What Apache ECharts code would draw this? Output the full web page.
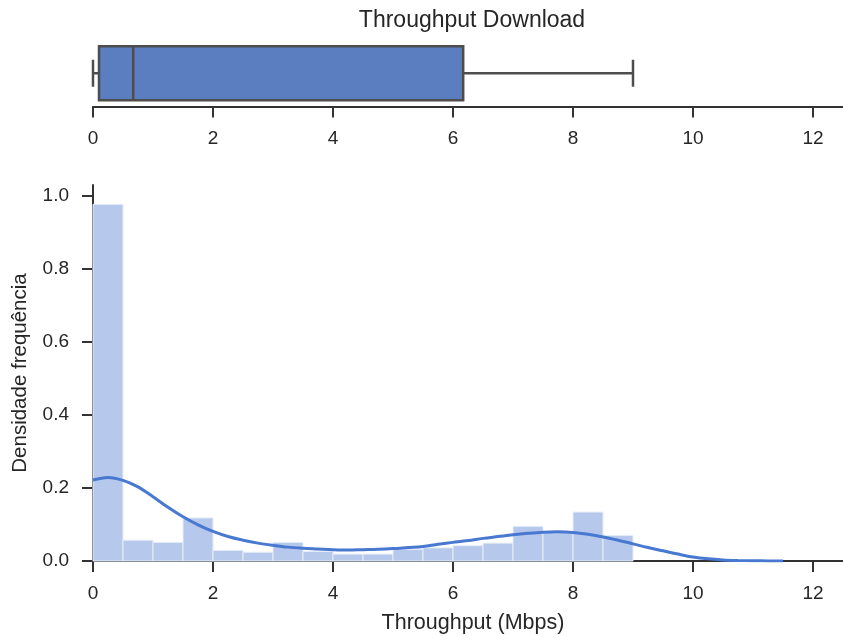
<!DOCTYPE html>
<html>
<head>
<meta charset="utf-8">
<title>Throughput Download</title>
<script src="https://cdn.jsdelivr.net/npm/echarts@6/dist/echarts.min.js"></script>
<style>
  html, body { margin: 0; padding: 0; background: #ffffff; }
  #chart { width: 843px; height: 636px; }
</style>
</head>
<body>
<div id="chart"></div>
<script>
// Summary of the download throughput sample (Mbps): min, Q1, median, Q3, upper whisker
const boxStats = [0.0, 0.1, 0.67, 6.17, 9.0];

// Histogram bin edges (Mbps) and normalised frequency density per bin
const binEdges = [0, 0.5, 1, 1.5, 2, 2.5, 3, 3.5, 4, 4.5, 5, 5.5, 6, 6.5, 7, 7.5, 8, 8.5, 9];
const binDensity = [0.977, 0.057, 0.051, 0.118, 0.029, 0.024, 0.051, 0.026, 0.019,
                    0.019, 0.032, 0.036, 0.042, 0.049, 0.095, 0.080, 0.134, 0.070];

// Kernel density estimate sampled along the throughput axis
const kdeX = [0, 0.25, 0.5, 0.75, 1, 1.25, 1.5, 1.75, 2, 2.25, 2.5, 2.75, 3, 3.25, 3.5, 3.75,
              4, 4.25, 4.5, 4.75, 5, 5.25, 5.5, 5.75, 6, 6.25, 6.5, 6.75, 7, 7.25, 7.5, 7.75,
              8, 8.25, 8.5, 8.75, 9, 9.25, 9.5, 9.75, 10, 10.25, 10.5, 10.75, 11, 11.25, 11.5];
const kdeY = [0.222, 0.229, 0.221, 0.203, 0.176, 0.147, 0.121, 0.099, 0.081, 0.067, 0.057, 0.049,
              0.043, 0.038, 0.035, 0.033, 0.031, 0.030, 0.031, 0.032, 0.034, 0.037, 0.040, 0.046,
              0.051, 0.056, 0.062, 0.067, 0.072, 0.076, 0.079, 0.080, 0.078, 0.073, 0.066, 0.057,
              0.047, 0.037, 0.028, 0.019, 0.011, 0.006, 0.003, 0.0015, 0.0007, 0.0003, 0.0001];

// Tick labels
const xTicks = [0, 2, 4, 6, 8, 10, 12];
const yTicks = [0, 0.2, 0.4, 0.6, 0.8, 1.0];

const FONT = '"Liberation Sans", Arial, Helvetica, sans-serif';
const INK = '#262626';
const AXIS = '#333333';
const BOX_FILL = '#5a7ec0';
const BOX_EDGE = '#4d4d4d';
const HIST_FILL = '#b6c9ec';
const KDE_COLOR = '#4878d0';

const PLOT_LEFT = 93;
const PLOT_WIDTH = 750;
const X_MAX = 12.5;

const histData = binDensity.map((d, i) => [binEdges[i], binEdges[i + 1], d]);
const kdeData = kdeX.map((x, i) => [x, kdeY[i]]);

function xAxisFor(gridIndex, extra) {
  return Object.assign({
    type: 'value',
    gridIndex: gridIndex,
    min: 0,
    max: X_MAX,
    axisLine: { show: true, onZero: false, lineStyle: { color: AXIS, width: 2 } },
    axisTick: { show: true, length: 11, lineStyle: { color: AXIS, width: 2 }, customValues: xTicks },
    axisLabel: { color: INK, fontSize: 19, fontFamily: FONT, margin: 23, customValues: xTicks,
                 formatter: v => String(v) },
    splitLine: { show: false }
  }, extra || {});
}

const chart = echarts.init(document.getElementById('chart'), null, { renderer: 'canvas' });

chart.setOption({
  animation: false,
  backgroundColor: '#ffffff',
  graphic: [{
    type: 'text',
    x: 472,
    y: 21,
    style: {
      text: 'Throughput Download',
      fontSize: 23,
      fontFamily: FONT,
      fill: INK,
      textAlign: 'center',
      textVerticalAlign: 'middle'
    }
  }],
  grid: [
    { left: PLOT_LEFT, width: PLOT_WIDTH, top: 40, height: 66.5, outerBoundsMode: 'none' },
    { left: PLOT_LEFT, width: PLOT_WIDTH, top: 185, height: 376, outerBoundsMode: 'none' }
  ],
  xAxis: [
    xAxisFor(0),
    xAxisFor(1, {
      name: 'Throughput (Mbps)',
      nameLocation: 'middle',
      nameGap: 51,
      nameTextStyle: { color: INK, fontSize: 21.5, fontFamily: FONT, padding: [0, 0, 0, 10] }
    })
  ],
  yAxis: [
    { type: 'value', gridIndex: 0, min: 0, max: 1, show: false },
    {
      type: 'value',
      gridIndex: 1,
      min: 0,
      max: 1.03,
      name: 'Densidade frequência',
      nameLocation: 'middle',
      nameGap: 62,
      nameTextStyle: { color: INK, fontSize: 20.5, fontFamily: FONT },
      axisLine: { show: true, onZero: false, lineStyle: { color: AXIS, width: 2 } },
      axisTick: { show: true, length: 11, lineStyle: { color: AXIS, width: 2 }, customValues: yTicks },
      axisLabel: { color: INK, fontSize: 19, fontFamily: FONT, margin: 24, customValues: yTicks,
                   formatter: v => v.toFixed(1) },
      splitLine: { show: false }
    }
  ],
  series: [
    {
      // horizontal box plot of the throughput sample
      type: 'custom',
      xAxisIndex: 0,
      yAxisIndex: 0,
      data: [boxStats],
      encode: { x: [0, 1, 2, 3, 4] },
      clip: false,
      renderItem: function (params, api) {
        const lo = api.value(0), q1 = api.value(1), med = api.value(2),
              q3 = api.value(3), hi = api.value(4);
        const yc = api.coord([q1, 0.5])[1];
        const px = v => api.coord([v, 0.5])[0];
        const halfH = 27, halfCap = 13.5;
        const edge = { stroke: BOX_EDGE, lineWidth: 2.5 };
        return {
          type: 'group',
          children: [
            { type: 'line', shape: { x1: px(lo), y1: yc, x2: px(q1), y2: yc }, style: edge },
            { type: 'line', shape: { x1: px(q3), y1: yc, x2: px(hi), y2: yc }, style: edge },
            { type: 'line', shape: { x1: px(lo), y1: yc - halfCap, x2: px(lo), y2: yc + halfCap }, style: edge },
            { type: 'line', shape: { x1: px(hi), y1: yc - halfCap, x2: px(hi), y2: yc + halfCap }, style: edge },
            { type: 'rect', shape: { x: px(q1), y: yc - halfH, width: px(q3) - px(q1), height: 2 * halfH },
              style: { fill: BOX_FILL, stroke: BOX_EDGE, lineWidth: 2.5 } },
            { type: 'line', shape: { x1: px(med), y1: yc - halfH, x2: px(med), y2: yc + halfH }, style: edge }
          ]
        };
      }
    },
    {
      // density histogram
      type: 'custom',
      xAxisIndex: 1,
      yAxisIndex: 1,
      data: histData,
      encode: { x: [0, 1], y: 2 },
      renderItem: function (params, api) {
        const top = api.coord([api.value(0), api.value(2)]);
        const base = api.coord([api.value(1), 0]);
        return {
          type: 'rect',
          shape: { x: top[0], y: top[1], width: base[0] - top[0], height: base[1] - top[1] },
          style: { fill: HIST_FILL, stroke: '#e6edf8', lineWidth: 1 }
        };
      }
    },
    {
      // kernel density estimate
      type: 'line',
      xAxisIndex: 1,
      yAxisIndex: 1,
      data: kdeData,
      smooth: 0.35,
      showSymbol: false,
      clip: true,
      lineStyle: { color: KDE_COLOR, width: 3 },
      z: 5
    }
  ]
});
</script>
</body>
</html>
